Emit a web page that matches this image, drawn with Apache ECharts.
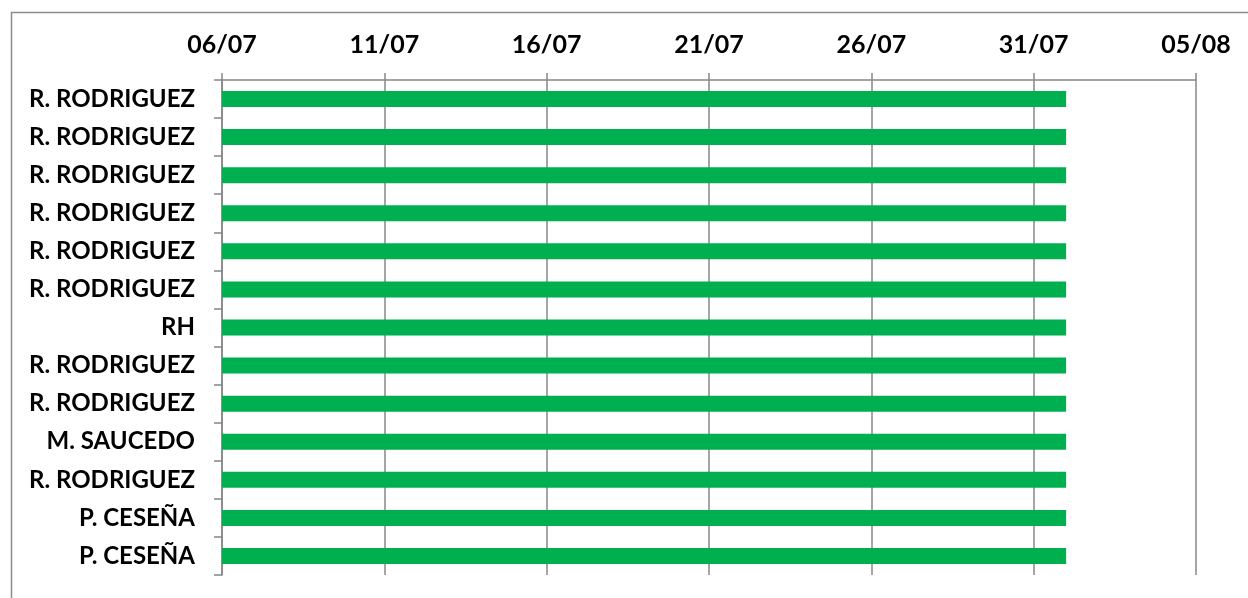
<!DOCTYPE html>
<html>
<head>
<meta charset="utf-8">
<script src="https://cdn.jsdelivr.net/npm/echarts@6/dist/echarts.min.js"></script>
<style>
html,body{margin:0;padding:0;background:#fff;}
#chart{width:1248px;height:598px;}
</style>
</head>
<body>
<div id="chart"></div>
<script>
// Categories (top to bottom)
const names = ['R. RODRIGUEZ','R. RODRIGUEZ','R. RODRIGUEZ','R. RODRIGUEZ','R. RODRIGUEZ','R. RODRIGUEZ','RH','R. RODRIGUEZ','R. RODRIGUEZ','M. SAUCEDO','R. RODRIGUEZ','P. CESEÑA','P. CESEÑA'];
// Start offsets in days from 06/07
const starts = [0,0,0,0,0,0,0,0,0,0,0,0,0];
// Durations in days (ends at 01/08)
const durations = [26,26,26,26,26,26,26,26,26,26,26,26,26];
// Tick labels (every 5 days from 06/07)
const tickLabels = ['06/07','11/07','16/07','21/07','26/07','31/07','05/08'];

const font = 'Lato';
const chart = echarts.init(document.getElementById('chart'));
chart.setOption({
  animation: false,
  graphic: [{
    type: 'rect', shape: {x: 11.5, y: 12.5, width: 1300, height: 700},
    style: {fill: 'none', stroke: '#8c8c8c', lineWidth: 1.5}, silent: true
  }],
  grid: {left: 222, top: 80, right: 52, bottom: 23},
  xAxis: {
    type: 'value', position: 'top', min: 0, max: 30, interval: 5,
    axisLine: {show: true, lineStyle: {color: '#878787', width: 1.5}},
    axisTick: {show: true, length: 7, lineStyle: {color: '#878787', width: 1.5}},
    splitLine: {show: true, lineStyle: {color: '#878787', width: 1.5}},
    axisLabel: {
      margin: 23, color: '#000', fontFamily: font, fontWeight: 'bold', fontSize: 25,
      formatter: v => tickLabels[Math.round(v / 5)]
    }
  },
  yAxis: {
    type: 'category', inverse: true,
    data: names.map((n, i) => String(i)),
    axisLine: {show: true, lineStyle: {color: '#878787', width: 1.5}},
    axisTick: {show: true, length: 8, alignWithLabel: false, lineStyle: {color: '#878787', width: 1.5}},
    axisLabel: {
      margin: 27, color: '#000', fontFamily: font, fontWeight: 'bold', fontSize: 24,
      formatter: v => names[+v]
    }
  },
  series: [
    {type: 'bar', stack: 'g', data: starts, barWidth: 16, itemStyle: {color: 'transparent'}, silent: true},
    {type: 'bar', stack: 'g', data: durations, barWidth: 16, itemStyle: {color: '#00B050'}}
  ]
});
</script>
</body>
</html>
